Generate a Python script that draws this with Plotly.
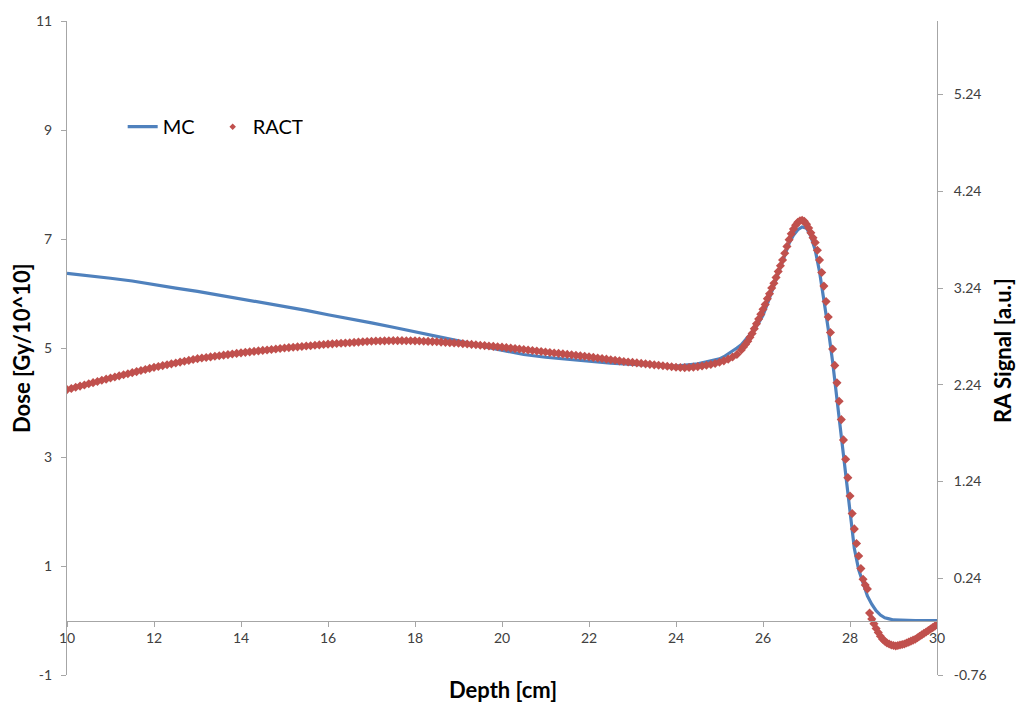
import numpy as np
import plotly.graph_objects as go

# ---------------- data ----------------
# MC dose [Gy/10^10] (left axis)
mc_depth = np.round(np.concatenate([
    np.arange(10.0, 24.75, 0.5),      # 10.0 .. 24.5
    np.arange(25.0, 29.05, 0.1),      # 25.0 .. 29.0
    [29.5, 30.0],
]), 2)
mc_dose = [
    6.37, 6.33, 6.28, 6.23, 6.16, 6.10, 6.04, 5.97, 5.90, 5.84,
    5.76, 5.69, 5.61, 5.54, 5.46, 5.38, 5.30, 5.22, 5.13, 5.04,
    4.96, 4.88, 4.83, 4.79, 4.75, 4.72, 4.70, 4.68, 4.67, 4.71,
    4.80, 4.84, 4.89, 4.94, 5.00, 5.06, 5.15, 5.24, 5.34, 5.46,
    5.60, 5.81, 6.04, 6.27, 6.50, 6.72, 6.92, 7.07, 7.17, 7.22,
    7.20, 7.05, 6.80, 6.40, 5.90, 5.35, 4.75, 4.05, 3.30, 2.60,
    1.95, 1.32, 0.93, 0.68, 0.45, 0.30, 0.18, 0.10, 0.05, 0.03,
    0.01,
    0.00, 0.00,
]

# RACT signal [a.u.] (right axis)
ract_depth = np.round(np.concatenate([
    np.arange(10.0, 25.45, 0.1),      # 10.0 .. 25.4
    np.arange(25.5, 30.001, 0.05),    # 25.5 .. 30.0
]), 2)
ract_signal = [
    # 10.0 - 25.4
    2.190, 2.202, 2.214, 2.226, 2.238, 2.250, 2.262, 2.274, 2.286, 2.298,
    2.310, 2.321, 2.332, 2.343, 2.354, 2.365, 2.376, 2.387, 2.398, 2.409,
    2.420, 2.429, 2.438, 2.447, 2.456, 2.465, 2.474, 2.483, 2.492, 2.501,
    2.510, 2.516, 2.522, 2.528, 2.534, 2.540, 2.546, 2.552, 2.558, 2.564,
    2.570, 2.575, 2.580, 2.585, 2.590, 2.595, 2.600, 2.605, 2.610, 2.615,
    2.620, 2.624, 2.628, 2.632, 2.636, 2.640, 2.644, 2.648, 2.652, 2.656,
    2.660, 2.663, 2.666, 2.669, 2.672, 2.675, 2.678, 2.681, 2.684, 2.687,
    2.690, 2.692, 2.693, 2.694, 2.695, 2.696, 2.696, 2.696, 2.695, 2.695,
    2.694, 2.692, 2.690, 2.688, 2.686, 2.684, 2.681, 2.678, 2.675, 2.672,
    2.669, 2.665, 2.661, 2.657, 2.653, 2.649, 2.645, 2.641, 2.637, 2.633,
    2.629, 2.624, 2.619, 2.614, 2.609, 2.604, 2.599, 2.594, 2.589, 2.584,
    2.579, 2.574, 2.569, 2.564, 2.559, 2.554, 2.549, 2.544, 2.539, 2.534,
    2.529, 2.523, 2.517, 2.511, 2.505, 2.499, 2.493, 2.487, 2.481, 2.476,
    2.471, 2.466, 2.461, 2.456, 2.451, 2.446, 2.441, 2.436, 2.431, 2.426,
    2.421, 2.418, 2.417, 2.418, 2.422, 2.428, 2.434, 2.441, 2.450, 2.460,
    2.472, 2.487, 2.505, 2.527, 2.553,
    # 25.50 - 30.00
    2.60, 2.63, 2.66, 2.69, 2.73, 2.77, 2.82, 2.87, 2.92, 2.97,
    3.02, 3.07, 3.13, 3.18, 3.24, 3.29, 3.35, 3.41, 3.47, 3.53,
    3.60, 3.67, 3.74, 3.80, 3.85, 3.89, 3.92, 3.935, 3.94, 3.93,
    3.90, 3.86, 3.81, 3.76, 3.71, 3.63, 3.53, 3.40, 3.26, 3.10,
    2.94, 2.78, 2.61, 2.44, 2.26, 2.07, 1.88, 1.67, 1.47, 1.28,
    1.09, 0.91, 0.75, 0.60, 0.47, 0.34, 0.23, 0.17, 0.13, -0.12,
    -0.18, -0.23, -0.28, -0.32, -0.36, -0.39, -0.41, -0.43, -0.44, -0.45,
    -0.455, -0.46, -0.455, -0.45, -0.445, -0.44, -0.43, -0.42, -0.41, -0.40,
    -0.39, -0.375, -0.36, -0.345, -0.33, -0.315, -0.30, -0.285, -0.27, -0.255,
    -0.24,
]

x_ticks = [10, 12, 14, 16, 18, 20, 22, 24, 26, 28, 30]
left_ticks = [-1, 1, 3, 5, 7, 9, 11]
right_ticks = [-0.76, 0.24, 1.24, 2.24, 3.24, 4.24, 5.24]

# ---------------- styling ----------------
BLUE = "#4F81BD"
RED = "#C0504D"
AXIS = "#A6A6A6"
FONT = "Lato"
TICKFONT = dict(family=FONT, size=14, color="#404040")
TITLEFONT = dict(family=FONT, size=22, color="#000000")

fig = go.Figure()
fig.add_trace(go.Scatter(
    x=mc_depth, y=mc_dose, mode="lines", name="MC",
    line=dict(color=BLUE, width=3.2), xaxis="x", yaxis="y",
))
fig.add_trace(go.Scatter(
    x=ract_depth, y=ract_signal, mode="markers", name="RACT", showlegend=False,
    marker=dict(symbol="diamond", size=7, color=RED, line=dict(width=0)),
    xaxis="x", yaxis="y2",
))
# legend-only entry with the small marker used in the reference legend
fig.add_trace(go.Scatter(
    x=[None], y=[None], mode="markers", name="RACT",
    marker=dict(symbol="diamond", size=5, color=RED), xaxis="x", yaxis="y2",
))

zero_pos = (0 - (-1)) / 12.0  # x-axis crosses the left axis at dose 0

fig.update_layout(
    width=1019, height=707,
    margin=dict(l=67, r=82, t=19, b=32),
    paper_bgcolor="white", plot_bgcolor="white",
    font=dict(family=FONT, color="#000000"),
    showlegend=True,
    legend=dict(
        orientation="h", x=0.064, y=(675 - 125) / 656, xanchor="left", yanchor="middle",
        font=dict(family=FONT, size=20, color="#000000"),
        bgcolor="rgba(0,0,0,0)", entrywidth=45, entrywidthmode="pixels",
        itemwidth=30,
    ),
    xaxis=dict(
        range=[10, 30], tickvals=x_ticks, ticktext=[str(v) for v in x_ticks],
        anchor="free", position=zero_pos,
        showline=True, linecolor=AXIS, linewidth=1,
        ticks="outside", ticklen=5, tickcolor=AXIS,
        showgrid=False, zeroline=False, tickfont=TICKFONT,
    ),
    yaxis=dict(
        range=[-1, 11], tickvals=left_ticks, ticktext=[str(v) for v in left_ticks],
        showline=True, linecolor=AXIS, linewidth=1,
        ticks="outside", ticklen=5, tickcolor=AXIS,
        showgrid=False, zeroline=False, tickfont=TICKFONT, ticklabelstandoff=6,
    ),
    yaxis2=dict(
        range=[-0.76, 6.0], tickvals=right_ticks, ticktext=[f"{v:.2f}" for v in right_ticks],
        overlaying="y", side="right", anchor="x",
        showline=True, linecolor=AXIS, linewidth=1,
        ticks="outside", ticklen=5, tickcolor=AXIS,
        showgrid=False, zeroline=False, tickfont=TICKFONT, ticklabelstandoff=8,
    ),
    annotations=[
        dict(text="<b>Depth [cm]</b>", xref="paper", yref="paper",
             x=(503 - 67) / 870, y=(675 - 690) / 656, xanchor="center", yanchor="middle",
             showarrow=False, font=TITLEFONT),
        dict(text="<b>Dose [Gy/10^10]</b>", xref="paper", yref="paper",
             x=(21 - 67) / 870, y=(675 - 347) / 656, xanchor="center", yanchor="middle",
             textangle=-90, showarrow=False, font=TITLEFONT),
        dict(text="<b>RA Signal [a.u.]</b>", xref="paper", yref="paper",
             x=(1003 - 67) / 870, y=(675 - 349) / 656, xanchor="center", yanchor="middle",
             textangle=-90, showarrow=False, font=TITLEFONT),
    ],
)

fig.write_html("out.html")
